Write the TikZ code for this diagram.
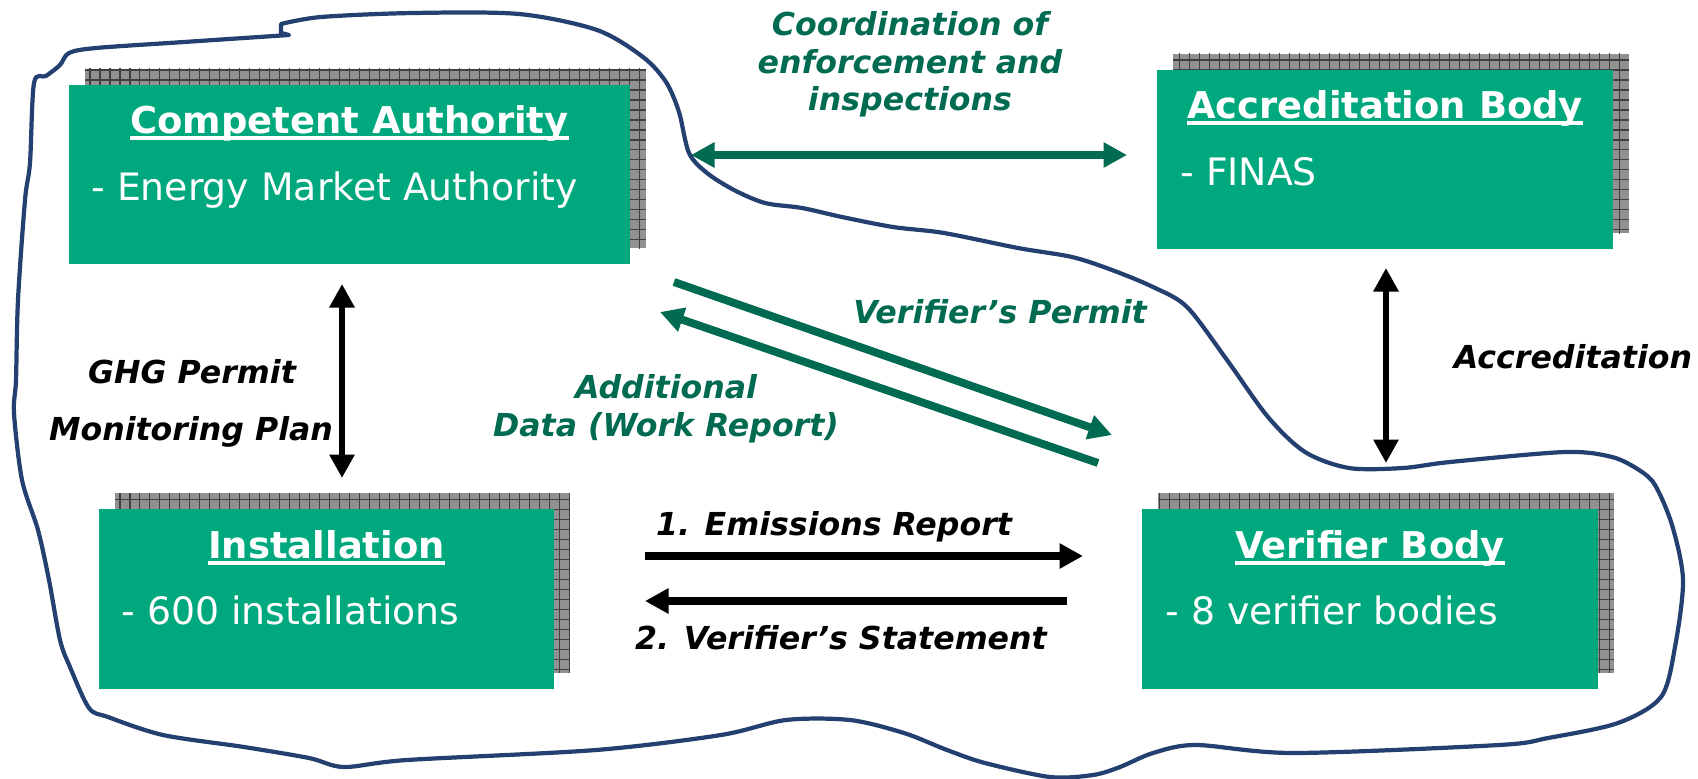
\documentclass[tikz,border=0pt]{standalone}
\usepackage{fontspec}
\setmainfont{DejaVu Sans}
\usetikzlibrary{arrows.meta, backgrounds}

\definecolor{boxgreen}{RGB}{0,168,126}
\definecolor{darkgreen}{RGB}{0,107,80}
\definecolor{blobblue}{RGB}{36,64,112}
\definecolor{shadowgray}{RGB}{145,145,145}

\newsavebox{\ulbox}
\newcommand{\ulined}[1]{\sbox{\ulbox}{#1}\rlap{\raisebox{-3.6pt}{\rule{\wd\ulbox}{2.2pt}}}\usebox{\ulbox}}

\tikzset{
  bodybox/.style={fill=boxgreen, inner sep=0pt, outer sep=0pt, minimum height=3.59cm},
  boxtitle/.style={text=white, inner sep=0pt, anchor=base, font=\fontsize{21}{25}\selectfont\bfseries},
  boxtext/.style={text=white, inner sep=0pt, anchor=base west, font=\fontsize{21.5}{25}\selectfont},
  flowlabel/.style={inner sep=0pt, anchor=base, font=\fontsize{18}{21.5}\selectfont\bfseries\itshape},
  greenlabel/.style={flowlabel, text=darkgreen},
  fatarrow/.style={line width=4.5pt},
  thinarrow/.style={line width=3.4pt},
  shadowgrid/.style={draw=black!75, line width=0.6pt},
  blobline/.style={draw=blobblue, line width=2.4pt, line join=round}
}

\begin{document}
\begin{tikzpicture}[x=0.02cm, y=-0.02cm, >={Triangle[length=0.47cm, width=0.48cm]}]
   \useasboundingbox (0,0) rectangle (1698,778);

   \node[bodybox, minimum width=11.22cm] (ca)   at (349.5,174.5) {};
   \node[bodybox, minimum width=9.12cm]  (ab)   at (1385,159.5) {};
   \node[bodybox, minimum width=9.1cm]   (inst) at (326.5,599) {};
   \node[bodybox, minimum width=9.12cm]  (vb)   at (1370,599) {};

   \begin{scope}[on background layer]
   \foreach \b in {ca,ab,inst,vb} {
      \begin{scope}
      \clip ([xshift=0.32cm, yshift=0.32cm]\b.south west) rectangle ([xshift=0.32cm, yshift=0.32cm]\b.north east);
      \fill[shadowgray] ([xshift=0.32cm, yshift=0.32cm]\b.south west) rectangle ([xshift=0.32cm, yshift=0.32cm]\b.north east);
      \draw[shadowgrid, step=0.2cm] ([xshift=0.3cm, yshift=0.3cm]\b.south west) grid ([xshift=0.34cm, yshift=0.34cm]\b.north east);
      \end{scope}
   }
   \end{scope}

   \node[boxtitle] (catitle)   at ([yshift=-0.98cm]ca.north)   {\ulined{Competent Authority}};
   \node[boxtext]  (catext)    at ([xshift=0.44cm, yshift=-2.31cm]ca.north west) {- Energy Market Authority};
   \node[boxtitle] (abtitle)   at ([yshift=-0.98cm]ab.north)   {\ulined{Accreditation Body}};
   \node[boxtext]  (abtext)    at ([xshift=0.46cm, yshift=-2.31cm]ab.north west) {- FINAS};
   \node[boxtitle] (insttitle) at ([yshift=-0.98cm]inst.north) {\ulined{Installation}};
   \node[boxtext]  (insttext)  at ([xshift=0.44cm, yshift=-2.31cm]inst.north west) {- 600 installations};
   \node[boxtitle] (vbtitle)   at ([yshift=-0.98cm]vb.north)   {\ulined{Verifier Body}};
   \node[boxtext]  (vbtext)    at ([xshift=0.46cm, yshift=-2.31cm]vb.north west) {- 8 verifier bodies};

   \coordinate (coordL) at (691,155);
   \coordinate (coordR) at (1127,155);
   \coordinate (permitS) at (674,282);
   \coordinate (permitE) at (1112,435);
   \coordinate (dataS) at (1098,463);
   \coordinate (dataE) at (660,312);
   \coordinate (emisS) at (645,556);
   \coordinate (emisE) at (1083,556);
   \coordinate (statS) at (1067,601);
   \coordinate (statE) at (645,601);
   \coordinate (ghgT) at (342,284);
   \coordinate (ghgB) at (342,478);
   \coordinate (accT) at (1386,268);
   \coordinate (accB) at (1386,463);

   \path[fatarrow, darkgreen]
    (coordL) edge [<->] (coordR)
    (permitS) edge [->] (permitE)
    (dataS) edge [->] (dataE);
   \path[fatarrow, black]
    (emisS) edge [->] (emisE)
    (statS) edge [->] (statE);
   \path[thinarrow, black, <->]
    (ghgT) edge (ghgB)
    (accT) edge (accB);

   \node[greenlabel, align=center, anchor=north] (coordtxt) at (910,11) {Coordination of\\enforcement and\\inspections};
   \node[greenlabel] (permittxt) at (1000,323) {Verifier’s Permit};
   \node[greenlabel, align=center, anchor=north] (datatxt) at (666,374) {Additional\\Data (Work Report)};
   \node[flowlabel] (ghgtxt) at (192,383) {GHG Permit};
   \node[flowlabel] (montxt) at (191,440) {Monitoring Plan};
   \node[flowlabel] (acctxt) at (1573,368) {Accreditation};
   \node[flowlabel] (emistxt) at (834,535) {1. Emissions Report};
   \node[flowlabel] (stattxt) at (841,649) {2. Verifier’s Statement};

   \draw[blobline] plot[smooth, tension=0.5] coordinates {(281,24) (321,17) (413,13) (519,14) (597,30) (643,57) (666,82) (679,112) (689,153) (707,173) (734,190) (765,203) (802,208) (842,217) (893,227) (944,233) (1018,248) (1072,257) (1112,270) (1153,287) (1187,307) (1227,360) (1268,417) (1305,452) (1349,468) (1403,468) (1450,462) (1565,452) (1612,457) (1639,470) (1655,485) (1672,525) (1683,580) (1675,647) (1661,697) (1618,723) (1548,738) (1499,745) (1294,753) (1196,745) (1153,753) (1120,767) (1093,775) (1050,777) (985,763) (947,750) (904,733) (850,720) (786,720) (721,735) (596,750) (407,760) (344,767) (309,758) (244,747) (163,735) (108,717) (89,708) (70,667) (60,640) (49,580) (38,530) (22,480) (14,413) (16,380) (18,300) (25,200) (30,163) (34,83) (46,76) (60,65) (69,53) (96,48) (184,42) (289,35)} -- (281,33) -- cycle;
\end{tikzpicture}
\end{document}
